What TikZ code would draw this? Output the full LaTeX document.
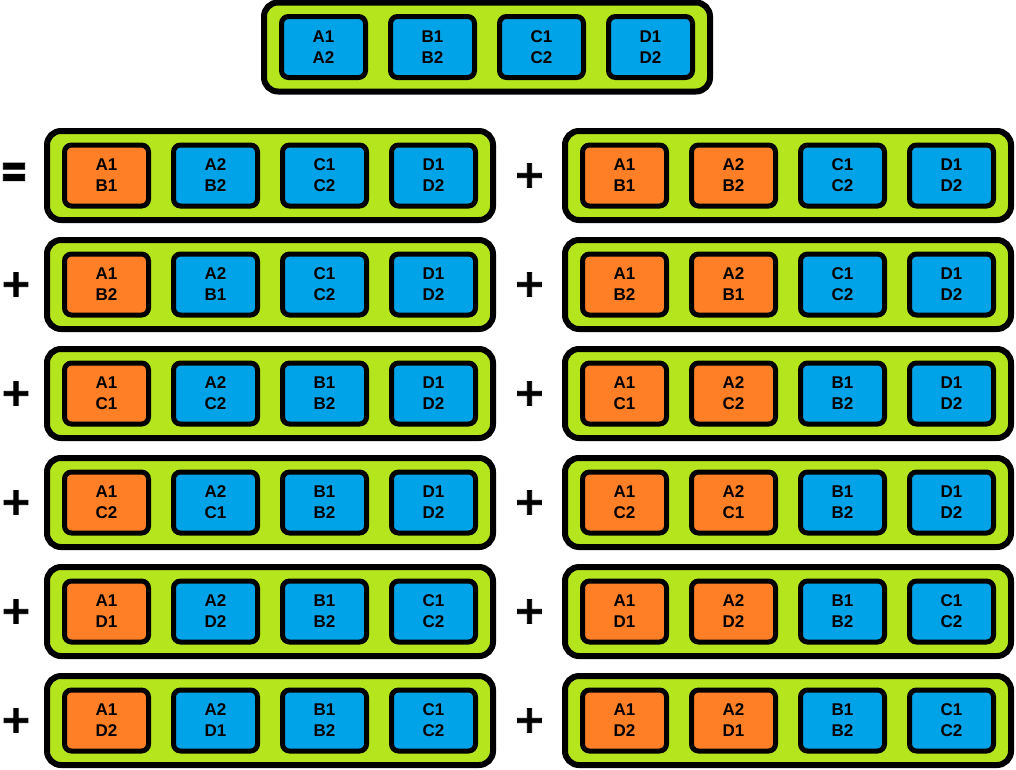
\documentclass[tikz,border=0pt]{standalone}
\usepackage{fontspec}
\setmainfont{Liberation Sans}
\newfontfamily\signfont{DejaVu Sans}[BoldFeatures={FakeBold=2.2}]

\definecolor{lime}{HTML}{B5E61D}
\definecolor{sky}{HTML}{00A2E8}
\definecolor{tangerine}{HTML}{FF7F27}

\tikzset{
          strip/.style = {draw = black, fill = lime, line width = 6pt, rounded corners = 14pt,
                          minimum width = 446pt, minimum height = 89pt},
          pair/.style = {draw = black, fill = #1, line width = 5pt, rounded corners = 7pt,
                         minimum width = 84pt, minimum height = 61pt, inner sep = 0pt, align = center,
                         font = \bfseries\fontsize{17}{21}\selectfont},
          sign/.style = {inner sep = 0pt, font = \signfont\bfseries\fontsize{38}{38}\selectfont}
        }

\begin{document}
\begin{tikzpicture}[x=1pt,y=-1pt]
          \useasboundingbox (0,0) rectangle (1016,769);

          % the product on top
          \node[strip] (top) at (487,47) {};
          \foreach \txt [count=\i] in {A1\\A2,B1\\B2,C1\\C2,D1\\D2}{
            \node[pair=sky] (top-\i) at (487-272.5+109*\i,47) {\txt};
          }

          % the sum, two columns of six
          \foreach \row [count=\j] in {
              {A1\\B1,A2\\B2,C1\\C2,D1\\D2},
              {A1\\B2,A2\\B1,C1\\C2,D1\\D2},
              {A1\\C1,A2\\C2,B1\\B2,D1\\D2},
              {A1\\C2,A2\\C1,B1\\B2,D1\\D2},
              {A1\\D1,A2\\D2,B1\\B2,C1\\C2},
              {A1\\D2,A2\\D1,B1\\B2,C1\\C2}}{
            \pgfmathsetmacro\yy{66.5+109*\j}
            \ifnum\j=1
              \node[sign, xscale=0.9, yscale=1.35] (op-l\j) at (14,\yy) {=};
            \else
              \node[sign] (op-l\j) at (16,\yy) {+};
            \fi
            \node[sign] (op-r\j) at (529.5,\yy) {+};

            \foreach \side/\xc/\k in {l/270/1,r/788/2}{
              \node[strip] (row-\side\j) at (\xc,\yy) {};
              \foreach \txt [count=\i] in \row {
                \ifnum\i>\k \def\hue{sky}\else\def\hue{tangerine}\fi
                \node[pair=\hue] (row-\side\j-\i) at (\xc-272.5+109*\i,\yy) {\txt};
              }
            }
          }
        \end{tikzpicture}
\end{document}
